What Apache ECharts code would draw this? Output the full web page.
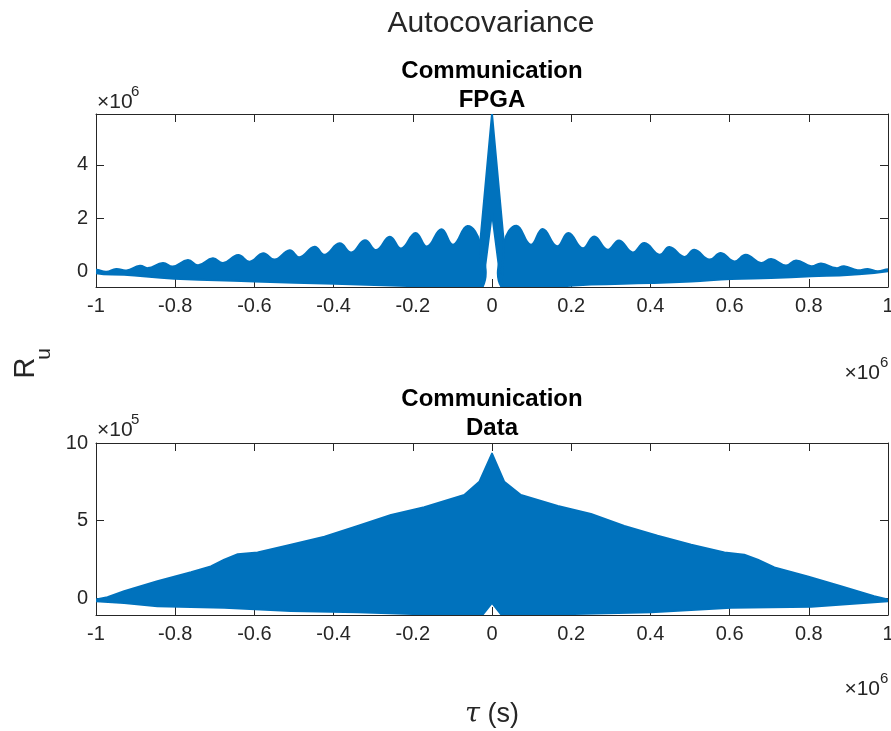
<!DOCTYPE html>
<html>
<head>
<meta charset="utf-8">
<title>Autocovariance</title>
<script src="https://cdn.jsdelivr.net/npm/echarts@6/dist/echarts.min.js"></script>
<style>
  html, body { margin: 0; padding: 0; background: #fff; }
  #main { width: 891px; height: 731px; }
</style>
</head>
<body>
<div id="main"></div>
<script>
// values: tau in units of 1e6 s,
// FPGA panel in units of 1e6, Data panel in units of 1e5
var xTicks = [-1, -0.8, -0.6, -0.4, -0.2, 0, 0.2, 0.4, 0.6, 0.8, 1];
var fpgaYTicks = [0, 2, 4];
var dataYTicks = [0, 5, 10];

// FPGA: upper envelope (lobe peaks and troughs), central spike at 0
var fpgaUpX = [-1.000, -0.974, -0.949, -0.923, -0.889, -0.869, -0.831, -0.806, -0.768, -0.742,
  -0.705, -0.679, -0.641, -0.612, -0.578, -0.549, -0.511, -0.486, -0.448, -0.423,
  -0.385, -0.355, -0.321, -0.292, -0.258, -0.229, -0.193, -0.164, -0.128, -0.098,
  -0.062, -0.030, 0, 0.030, 0.062, 0.098, 0.128, 0.164, 0.193, 0.229,
  0.258, 0.292, 0.321, 0.355, 0.385, 0.423, 0.448, 0.486, 0.511, 0.549,
  0.578, 0.612, 0.641, 0.679, 0.705, 0.742, 0.768, 0.806, 0.831, 0.869,
  0.889, 0.923, 0.949, 0.974, 1.000];
var fpgaUpY = [0.06, -0.02, 0.09, 0.03, 0.21, 0.12, 0.31, 0.18, 0.42, 0.23,
  0.49, 0.31, 0.61, 0.36, 0.68, 0.44, 0.79, 0.53, 0.92, 0.62,
  1.05, 0.71, 1.17, 0.80, 1.30, 0.86, 1.44, 0.93, 1.58, 1.00,
  1.70, 1.05, 5.91, 1.06, 1.71, 1.00, 1.59, 0.94, 1.44, 0.87,
  1.31, 0.81, 1.16, 0.71, 1.06, 0.62, 0.91, 0.54, 0.81, 0.44,
  0.69, 0.37, 0.62, 0.31, 0.46, 0.22, 0.41, 0.19, 0.29, 0.12,
  0.19, 0.04, 0.09, 0.00, 0.08];
// FPGA: lower envelope
var fpgaLowX = [-1.000, -0.929, -0.802, -0.600, -0.398, -0.196, -0.087, -0.024, 0, 0.024,
  0.100, 0.166, 0.250, 0.400, 0.503, 0.604, 0.705, 0.806, 0.907, 1.000];
var fpgaLowY = [-0.07, -0.13, -0.28, -0.38, -0.47, -0.56, -0.59, -0.59, 2.19, -0.59,
  -0.59, -0.57, -0.50, -0.44, -0.38, -0.29, -0.25, -0.19, -0.13, 0.00];

// Data: upper envelope
var dataUpX = [-1.000, -0.971, -0.929, -0.845, -0.760, -0.710, -0.676, -0.642, -0.592, -0.508,
  -0.423, -0.339, -0.255, -0.171, -0.070, -0.032, 0, 0.031, 0.073, 0.166,
  0.250, 0.334, 0.418, 0.503, 0.587, 0.637, 0.671, 0.713, 0.797, 0.881,
  0.965, 1.000];
var dataUpY = [-0.08, 0.07, 0.45, 1.09, 1.67, 2.05, 2.48, 2.84, 2.95, 3.44,
  3.97, 4.66, 5.37, 5.86, 6.65, 7.50, 9.32, 7.50, 6.65, 5.94,
  5.43, 4.66, 4.02, 3.44, 2.95, 2.80, 2.48, 1.99, 1.41, 0.77,
  0.13, -0.08];
// Data: lower envelope
var dataLowX = [-1.000, -0.929, -0.845, -0.676, -0.508, -0.339, -0.171, -0.035, -0.024, 0,
  0.024, 0.035, 0.166, 0.402, 0.604, 0.806, 1.000];
var dataLowY = [-0.19, -0.30, -0.51, -0.62, -0.83, -0.90, -1.04, -1.07, -1.07, -0.30,
  -1.07, -1.07, -1.04, -0.90, -0.62, -0.55, -0.19];

var blue = '#0072BD';
var ink = '#262626';
var font = '"Liberation Sans", Arial, Helvetica, sans-serif';

var myChart = echarts.init(document.getElementById('main'), null, { renderer: 'canvas' });

function toPts(api, xs, ys) {
  return xs.map(function (x, i) { return api.coord([x, ys[i]]); });
}

// filled band between the two envelopes; side lobes rounded, spike kept sharp
function band(ux, uy, lx, ly, smooth) {
  return function (params, api) {
    var up = toPts(api, ux, uy);
    var low = toPts(api, lx, ly);
    var style = { fill: blue, stroke: blue, lineWidth: 2, lineJoin: 'round' };
    if (!smooth) {
      return { type: 'polygon', shape: { points: up.concat(low.slice().reverse()) }, style: style };
    }
    var iu = ux.indexOf(0), il = lx.indexOf(0);
    return {
      type: 'group',
      children: [
        { type: 'polygon', shape: { points: up.slice(0, iu).concat(low.slice(0, il).reverse()), smooth: smooth }, style: style },
        { type: 'polygon', shape: { points: up.slice(iu + 1).concat(low.slice(il + 1).reverse()), smooth: smooth }, style: style },
        { type: 'polygon', shape: { points: [up[iu - 1], up[iu], up[iu + 1], low[il + 1], low[il], low[il - 1]] }, style: style }
      ]
    };
  };
}

function xAx(grid, pos) {
  return {
    type: 'value', gridIndex: grid, position: pos, min: -1, max: 1,
    axisLine: { onZero: false, lineStyle: { color: ink, width: 1 } },
    axisTick: { inside: true, length: 8, customValues: xTicks, lineStyle: { color: ink } },
    axisLabel: { show: pos === 'bottom', customValues: xTicks, margin: 9, color: ink, fontSize: 20, fontFamily: font },
    splitLine: { show: false }
  };
}

function yAx(grid, pos, min, max, ticks) {
  return {
    type: 'value', gridIndex: grid, position: pos, min: min, max: max,
    axisLine: { onZero: false, lineStyle: { color: ink, width: 1 } },
    axisTick: { inside: true, length: 8, customValues: ticks, lineStyle: { color: ink } },
    axisLabel: { show: pos === 'left', customValues: ticks, margin: 8, color: ink, fontSize: 20, fontFamily: font },
    splitLine: { show: false }
  };
}

function txt(x, y, s, size, align, extra) {
  var el = {
    type: 'text', x: x, y: y, silent: true,
    style: { text: s, fontSize: size, fontFamily: font, fill: ink, align: align, verticalAlign: 'middle' }
  };
  if (extra) for (var k in extra) el[k] = extra[k];
  return el;
}

option = {
  animation: false,
  backgroundColor: '#fff',
  title: [
    { text: 'Autocovariance', left: 491, top: 9, textAlign: 'center', padding: 0,
      textStyle: { fontSize: 30, fontWeight: 'normal', color: ink, fontFamily: font } },
    { text: 'Communication\nFPGA', left: 492, top: 57, textAlign: 'center', padding: 0,
      textStyle: { fontSize: 24, fontWeight: 'bold', color: '#000', lineHeight: 29, fontFamily: font } },
    { text: 'Communication\nData', left: 492, top: 385, textAlign: 'center', padding: 0,
      textStyle: { fontSize: 24, fontWeight: 'bold', color: '#000', lineHeight: 29, fontFamily: font } }
  ],
  grid: [
    { left: 96, top: 114, width: 792, height: 173, outerBoundsMode: 'none' },
    { left: 96, top: 443, width: 792, height: 172, outerBoundsMode: 'none' }
  ],
  xAxis: [xAx(0, 'bottom'), xAx(0, 'top'), xAx(1, 'bottom'), xAx(1, 'top')],
  yAxis: [
    yAx(0, 'left', -0.59, 5.91, fpgaYTicks), yAx(0, 'right', -0.59, 5.91, fpgaYTicks),
    yAx(1, 'left', -1.08, 10, dataYTicks), yAx(1, 'right', -1.08, 10, dataYTicks)
  ],
  series: [
    { type: 'custom', xAxisIndex: 0, yAxisIndex: 0, clip: true, silent: true,
      data: [[0, 0]], renderItem: band(fpgaUpX, fpgaUpY, fpgaLowX, fpgaLowY, 0.45) },
    { type: 'custom', xAxisIndex: 2, yAxisIndex: 2, clip: true, silent: true,
      data: [[0, 0]], renderItem: band(dataUpX, dataUpY, dataLowX, dataLowY, 0) }
  ],
  graphic: [
    // axis exponents
    txt(97, 102, '×10', 21, 'left'), txt(131, 92, '6', 15, 'left'),
    txt(97, 430, '×10', 21, 'left'), txt(131, 420, '5', 15, 'left'),
    txt(880, 373, '×10', 21, 'right'), txt(880, 363, '6', 15, 'left'),
    txt(880, 689, '×10', 21, 'right'), txt(880, 679, '6', 15, 'left'),
    // y label R_u (rotated) and x label
    txt(26, 368, 'R', 29, 'center', { rotation: Math.PI / 2 }),
    txt(44, 354, 'u', 21, 'center', { rotation: Math.PI / 2 }),
    {
      type: 'text', x: 492, y: 715, silent: true,
      style: {
        text: '{t|τ}{s| (s)}', align: 'center', verticalAlign: 'middle',
        rich: {
          t: { fontSize: 27, fontStyle: 'italic', fontFamily: '"DejaVu Serif", serif', fill: ink },
          s: { fontSize: 27, fontFamily: font, fill: ink }
        }
      }
    }
  ]
};
myChart.setOption(option);
</script>
</body>
</html>
